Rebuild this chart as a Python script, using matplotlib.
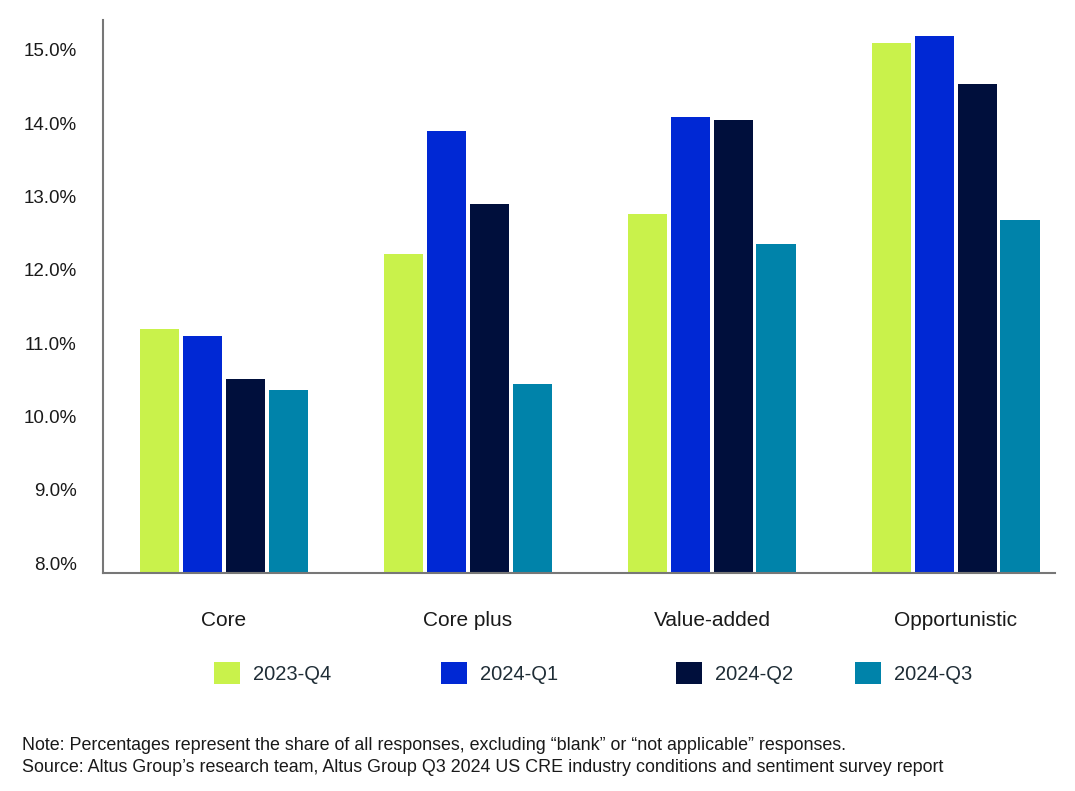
import matplotlib
matplotlib.use("Agg")
import matplotlib.pyplot as plt
import numpy as np

categories = ["Core", "Core plus", "Value-added", "Opportunistic"]
series_names = ["2023-Q4", "2024-Q1", "2024-Q2", "2024-Q3"]
v_2023_q4 = [11.19, 12.22, 12.76, 15.09]
v_2024_q1 = [11.10, 13.89, 14.08, 15.19]
v_2024_q2 = [10.51, 12.90, 14.04, 14.53]
v_2024_q3 = [10.36, 10.44, 12.35, 12.68]
yticks = [8, 9, 10, 11, 12, 13, 14, 15]
colors = ["#C9F24B", "#0028D4", "#000F3C", "#0083AA"]

plt.rcParams['font.family'] = ['Liberation Sans', 'DejaVu Sans']

fig = plt.figure(figsize=(10.75, 7.91), dpi=100)
ax = fig.add_axes([103/1075, 1-573/791, (1055-103)/1075, (573-20)/791])

series = [v_2023_q4, v_2024_q1, v_2024_q2, v_2024_q3]
x = np.arange(len(categories))
pitch = 0.175
width = 0.16
bars = []
for i, (vals, c, name) in enumerate(zip(series, colors, series_names)):
    b = ax.bar(x + (i - 1.5) * pitch, vals, width=width, color=c, label=name, bottom=0)
    bars.append(b)

ax.set_ylim(7.864, 15.409)
ax.set_xlim(-0.496, 3.406)
ax.set_yticks(yticks)
ax.set_yticklabels([f"{v:.1f}%" for v in yticks])
ax.set_xticks(x)
ax.set_xticklabels(categories)
ax.tick_params(axis='y', length=0, pad=19, labelsize=13.5, labelcolor="#1a1a1a")
ax.tick_params(axis='x', length=0, pad=27.5, labelsize=15, labelcolor="#1a1a1a")
for s in ["top", "right"]:
    ax.spines[s].set_visible(False)
for s in ["left", "bottom"]:
    ax.spines[s].set_color("#777777")
    ax.spines[s].set_linewidth(1.5)

# legends, one per series
lefts = [214, 441, 676, 855]
fs = 14.5
px = fs * 100 / 72
for b, name, lx in zip(bars, series_names, lefts):
    fig.legend(handles=[b], labels=[name], loc='center left',
               bbox_to_anchor=(lx/1075, 1-673/791), frameon=False,
               borderpad=0, borderaxespad=0, fontsize=fs,
               handlelength=26/px, handleheight=27/px, handletextpad=13/px,
               labelcolor="#1f2d36")

fig.text(22/1075, 1-745/791, "Note: Percentages represent the share of all responses, excluding \u201cblank\u201d or \u201cnot applicable\u201d responses.",
         fontsize=12.9, color="#1a1a1a", va='center', ha='left')
fig.text(22/1075, 1-768/791, "Source: Altus Group\u2019s research team, Altus Group Q3 2024 US CRE industry conditions and sentiment survey report",
         fontsize=12.9, color="#1a1a1a", va='center', ha='left')

fig.savefig("out.png", dpi=100)
